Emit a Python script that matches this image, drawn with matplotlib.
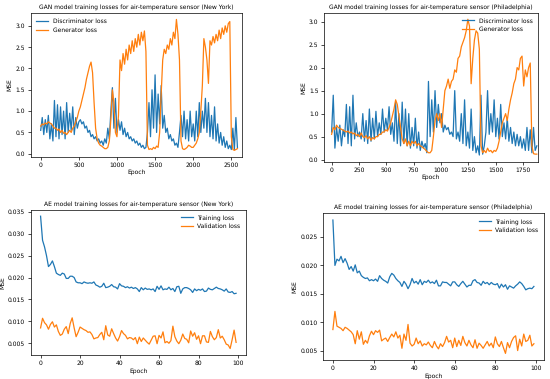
import numpy as np
import matplotlib.pyplot as plt

plt.rcParams['text.hinting'] = 'none'
plt.rcParams['font.size'] = 4.3
plt.rcParams['axes.titlesize'] = 4.35
plt.rcParams['axes.linewidth'] = 0.5
plt.rcParams['xtick.major.width'] = 0.5
plt.rcParams['ytick.major.width'] = 0.5
plt.rcParams['xtick.major.size'] = 2
plt.rcParams['ytick.major.size'] = 2
plt.rcParams['xtick.major.pad'] = 2
plt.rcParams['ytick.major.pad'] = 2

# GAN losses, New York (one value every 20 epochs)
ny_gan_step = 20
ny_disc = [0.55, 0.85, 0.45, 0.8, 0.5, 0.9, 0.35, 0.7, 0.3, 1.25,
           0.4, 1.15, 0.35, 1.1, 0.45, 1.0, 0.35, 1.2, 0.5, 0.95,
           0.55, 1.1, 0.45, 0.85, 0.6, 0.75, 0.8, 0.7, 0.75, 0.6,
           0.65, 0.5, 0.55, 0.4, 0.45, 0.35, 0.4, 0.3, 0.35, 0.25,
           0.3, 0.2, 0.35, 0.25, 0.6, 0.35, 1.0, 1.55, 0.6, 1.3,
           0.5, 0.8, 0.55, 0.75, 0.45, 0.6, 0.4, 0.5, 0.35, 0.4,
           0.3, 0.35, 0.25, 0.3, 0.2, 0.25, 0.15, 0.2, 0.12, 0.15,
           0.5, 1.2, 0.4, 1.5, 0.6, 1.85, 0.5, 1.4, 0.7, 1.6,
           0.6, 0.9, 0.5, 0.6, 0.35, 0.45, 0.3, 0.35, 0.2, 0.25,
           0.15, 0.5, 0.9, 0.4, 1.0, 0.35, 0.8, 0.3, 1.0, 0.4,
           0.7, 0.3, 1.0, 0.4, 1.2, 0.5, 1.0, 0.6, 1.3, 0.5,
           1.2, 0.4, 0.9, 0.35, 1.1, 0.3, 0.7, 0.25, 0.5, 0.2,
           0.4, 0.15, 0.3, 0.12, 0.2, 0.1, 0.6, 0.1, 0.85, 0.15]
ny_gen = [0.65, 0.7, 0.68, 0.72, 0.7, 0.75, 0.72, 0.7, 0.65, 0.6,
          0.6, 0.55, 0.58, 0.5, 0.55, 0.48, 0.5, 0.45, 0.5, 0.55,
          0.5, 0.6, 0.65, 0.75, 0.85, 1.0, 1.1, 1.25, 1.4, 1.55,
          1.75, 1.9, 2.05, 2.15, 1.9, 1.2, 0.6, 0.35, 0.25, 0.2,
          0.18, 0.15, 0.12, 0.12, 0.15, 0.3, 0.8, 1.5, 1.2, 0.5,
          0.4, 0.9, 2.2, 1.95, 2.35, 2.1, 2.45, 2.2, 2.55, 2.35,
          2.65, 2.4, 2.7, 2.5, 2.8, 2.55, 2.85, 2.65, 2.88, 2.4,
          0.2, 0.1, 0.12, 0.1, 0.15, 0.12, 0.18, 0.15, 0.5, 1.4,
          2.2, 2.45, 2.35, 2.55, 2.45, 2.7, 2.55, 2.85, 2.7, 3.15,
          2.8, 2.2, 0.3, 0.12, 0.1, 0.12, 0.15, 0.2, 0.18, 0.15,
          0.15, 0.2, 0.25, 0.35, 0.5, 1.0, 1.6, 2.7, 2.5, 2.2,
          1.65, 2.65, 2.55, 2.75, 2.6, 2.8, 2.65, 2.9, 2.7, 2.95,
          2.8, 3.0, 2.85, 3.05, 3.1, 0.4, 0.1, 0.08, 0.1, 0.12]

# GAN losses, Philadelphia (one value every 15 epochs)
ph_gan_step = 15
ph_disc = [0.6, 1.4, 0.25, 0.7, 0.4, 0.75, 0.3, 0.65, 0.5, 1.2,
           0.35, 1.15, 0.3, 1.4, 0.45, 0.8, 0.5, 0.6, 0.45, 1.0,
           0.4, 0.85, 0.35, 1.1, 0.4, 0.9, 0.45, 1.05, 0.5, 0.8,
           0.55, 1.1, 0.6, 0.9, 0.65, 1.15, 0.55, 0.8, 0.4, 1.25,
           0.35, 1.0, 0.3, 1.25, 0.35, 1.1, 0.3, 1.0, 0.25, 0.7,
           0.3, 0.9, 0.25, 0.6, 0.2, 0.4, 0.25, 0.35, 0.15, 1.7,
           0.5, 1.3, 0.6, 1.5, 0.7, 1.2, 0.8, 1.0, 0.6, 0.75,
           0.65, 0.7, 0.55, 0.6, 0.5, 1.5, 0.45, 0.6, 0.4, 1.0,
           0.35, 1.3, 0.3, 0.6, 0.25, 1.1, 0.2, 0.5, 0.15, 0.3,
           0.1, 1.4, 0.12, 0.3, 0.6, 1.5, 0.55, 1.0, 0.6, 1.3,
           0.5, 0.9, 0.45, 1.2, 0.5, 0.8, 0.45, 0.9, 0.4, 0.7,
           0.35, 0.6, 0.3, 0.55, 0.3, 0.5, 0.25, 0.45, 0.2, 0.7,
           0.2, 0.65, 0.15, 0.7, 0.2, 0.3]
ph_gen = [0.55, 0.7, 0.65, 0.75, 0.7, 0.68, 0.66, 0.64, 0.62, 0.6,
          0.62, 0.58, 0.6, 0.56, 0.58, 0.52, 0.55, 0.5, 0.58, 0.5,
          0.48, 0.52, 0.45, 0.5, 0.42, 0.48, 0.45, 0.5, 0.5, 0.55,
          0.55, 0.6, 0.6, 0.65, 0.62, 0.7, 0.8, 0.95, 1.1, 1.3,
          1.2, 0.95, 0.7, 0.45, 0.35, 0.45, 0.3, 0.4, 0.3, 0.4,
          0.35, 0.4, 0.3, 0.35, 0.3, 0.28, 0.25, 0.22, 0.18, 0.15,
          0.15, 0.2, 0.5, 0.85, 1.0, 0.85, 1.0, 0.7, 1.1, 1.5,
          1.6, 1.75, 1.55, 1.7, 1.75, 1.95, 1.9, 2.2, 2.25, 2.45,
          2.55, 2.65, 2.8, 3.05, 2.9, 1.65, 2.2, 2.6, 2.8, 2.75,
          2.4, 0.3, 0.15, 0.2, 0.15, 0.25, 0.18, 0.2, 0.15, 0.2,
          0.18, 0.25, 0.4, 0.6, 0.8, 0.9, 1.0, 0.85, 1.1, 1.3,
          1.45, 1.65, 1.75, 2.0, 1.95, 2.2, 2.25, 1.6, 1.95, 1.8,
          2.0, 2.1, 0.3, 0.13, 0.12, 0.12]

# AE losses, New York (per epoch)
ny_train = [0.0340, 0.0285, 0.0270, 0.0250, 0.0225, 0.0230, 0.0238, 0.0225, 0.0210, 0.0207,
            0.0205, 0.0210, 0.0208, 0.0198, 0.0198, 0.0203, 0.0203, 0.0200, 0.0190, 0.0188,
            0.0188, 0.0186, 0.0190, 0.0188, 0.0187, 0.0188, 0.0187, 0.0190, 0.0183, 0.0181,
            0.0178, 0.0180, 0.0187, 0.0177, 0.0178, 0.0180, 0.0184, 0.0179, 0.0178, 0.0174,
            0.0186, 0.0181, 0.0180, 0.0177, 0.0179, 0.0176, 0.0178, 0.0175, 0.0177, 0.0174,
            0.0168, 0.0177, 0.0172, 0.0176, 0.0173, 0.0174, 0.0172, 0.0174, 0.0168, 0.0180,
            0.0173, 0.0181, 0.0172, 0.0174, 0.0173, 0.0178, 0.0172, 0.0175, 0.0168, 0.0179,
            0.0180, 0.0164, 0.0174, 0.0177, 0.0177, 0.0175, 0.0172, 0.0166, 0.0174, 0.0170,
            0.0173, 0.0171, 0.0174, 0.0168, 0.0169, 0.0176, 0.0173, 0.0172, 0.0175, 0.0178,
            0.0175, 0.0174, 0.0172, 0.0169, 0.0174, 0.0167, 0.0166, 0.0168, 0.0163, 0.0164]
ny_val = [0.0085, 0.0107, 0.0097, 0.0092, 0.0082, 0.0093, 0.0099, 0.0087, 0.0092, 0.0077,
          0.0068, 0.0071, 0.0082, 0.0088, 0.0072, 0.0095, 0.0108, 0.0085, 0.0065, 0.0075,
          0.0087, 0.0084, 0.0081, 0.0079, 0.0075, 0.0076, 0.0070, 0.0060, 0.0062, 0.0063,
          0.0070, 0.0075, 0.0058, 0.0090, 0.0069, 0.0066, 0.0083, 0.0072, 0.0062, 0.0055,
          0.0065, 0.0079, 0.0072, 0.0068, 0.0060, 0.0063, 0.0062, 0.0058, 0.0063, 0.0049,
          0.0064, 0.0054, 0.0062, 0.0057, 0.0052, 0.0048, 0.0057, 0.0066, 0.0067, 0.0049,
          0.0068, 0.0062, 0.0076, 0.0051, 0.0054, 0.0050, 0.0056, 0.0089, 0.0065, 0.0055,
          0.0049, 0.0057, 0.0071, 0.0061, 0.0059, 0.0051, 0.0078, 0.0066, 0.0074, 0.0059,
          0.0067, 0.0049, 0.0067, 0.0067, 0.0053, 0.0052, 0.0077, 0.0065, 0.0058, 0.0063,
          0.0081, 0.0062, 0.0066, 0.0058, 0.0048, 0.0046, 0.0038, 0.0058, 0.0080, 0.0052]

# AE losses, Philadelphia (per epoch)
ph_train = [0.0280, 0.0200, 0.0211, 0.0208, 0.0216, 0.0205, 0.0212, 0.0204, 0.0193, 0.0198,
            0.0190, 0.0201, 0.0187, 0.0190, 0.0182, 0.0179, 0.0177, 0.0178, 0.0173, 0.0175,
            0.0173, 0.0176, 0.0172, 0.0182, 0.0177, 0.0174, 0.0172, 0.0169, 0.0180, 0.0186,
            0.0183, 0.0177, 0.0173, 0.0170, 0.0163, 0.0172, 0.0167, 0.0159, 0.0166, 0.0177,
            0.0169, 0.0172, 0.0167, 0.0175, 0.0166, 0.0172, 0.0170, 0.0174, 0.0169, 0.0171,
            0.0168, 0.0174, 0.0164, 0.0164, 0.0171, 0.0170, 0.0170, 0.0167, 0.0164, 0.0171,
            0.0171, 0.0166, 0.0163, 0.0168, 0.0172, 0.0167, 0.0162, 0.0165, 0.0165, 0.0173,
            0.0175, 0.0170, 0.0169, 0.0165, 0.0172, 0.0168, 0.0170, 0.0166, 0.0170, 0.0167,
            0.0166, 0.0168, 0.0160, 0.0167, 0.0162, 0.0166, 0.0158, 0.0164, 0.0162, 0.0160,
            0.0164, 0.0167, 0.0171, 0.0168, 0.0163, 0.0157, 0.0159, 0.0160, 0.0159, 0.0163]
ph_val = [0.0087, 0.0119, 0.0093, 0.0091, 0.0089, 0.0085, 0.0091, 0.0089, 0.0086, 0.0083,
          0.0078, 0.0062, 0.0085, 0.0070, 0.0083, 0.0061, 0.0068, 0.0063, 0.0076, 0.0084,
          0.0078, 0.0085, 0.0082, 0.0086, 0.0067, 0.0070, 0.0072, 0.0066, 0.0073, 0.0079,
          0.0074, 0.0083, 0.0072, 0.0077, 0.0054, 0.0079, 0.0068, 0.0096, 0.0063, 0.0058,
          0.0061, 0.0072, 0.0062, 0.0067, 0.0058, 0.0062, 0.0060, 0.0065, 0.0059, 0.0055,
          0.0066, 0.0058, 0.0053, 0.0062, 0.0057, 0.0064, 0.0075, 0.0065, 0.0068, 0.0055,
          0.0072, 0.0057, 0.0068, 0.0059, 0.0075, 0.0064, 0.0058, 0.0068, 0.0060, 0.0055,
          0.0069, 0.0054, 0.0063, 0.0059, 0.0054, 0.0060, 0.0066, 0.0058, 0.0063, 0.0055,
          0.0074, 0.0062, 0.0057, 0.0066, 0.0055, 0.0045, 0.0064, 0.0055, 0.0066, 0.0073,
          0.0076, 0.0050, 0.0070, 0.0058, 0.0079, 0.0066, 0.0068, 0.0077, 0.0058, 0.0062]

fig = plt.figure(figsize=(5.5, 3.79), dpi=100)

ax1 = fig.add_axes([0.056, 0.586, 0.384, 0.380])
ax2 = fig.add_axes([0.589, 0.573, 0.389, 0.394])
ax3 = fig.add_axes([0.056, 0.063, 0.391, 0.384])
ax4 = fig.add_axes([0.587, 0.050, 0.402, 0.387])

# top left
x = np.arange(len(ny_disc)) * ny_gan_step
ax1.plot(x, ny_disc, color='#1f77b4', lw=0.9, label='Discriminator loss')
ax1.plot(x, ny_gen, color='#ff7f0e', lw=0.9, label='Generator loss')
ax1.set_xlim(-130, 2640)
ax1.set_xticks([0, 500, 1000, 1500, 2000, 2500])
ax1.set_yticks([0.0, 0.5, 1.0, 1.5, 2.0, 2.5, 3.0])
ax1.set_title('GAN model training losses for air-temperature sensor (New York)', pad=3)
ax1.legend(loc='upper left', frameon=False)

# top right
x = np.arange(len(ph_disc)) * ph_gan_step
ax2.plot(x, ph_disc, color='#1f77b4', lw=0.9, label='Discriminator loss')
ax2.plot(x, ph_gen, color='#ff7f0e', lw=0.9, label='Generator loss')
ax2.set_xlim(-70, 1885)
ax2.set_xticks([0, 250, 500, 750, 1000, 1250, 1500, 1750])
ax2.set_yticks([0.0, 0.5, 1.0, 1.5, 2.0, 2.5, 3.0])
ax2.set_title('GAN model training losses for air-temperature sensor (Philadelphia)', pad=3)
ax2.legend(loc='upper right', frameon=False)

# bottom left
ep = np.arange(len(ny_train))
ax3.plot(ep, ny_train, color='#1f77b4', lw=0.9, label='Training loss')
ax3.plot(ep, ny_val, color='#ff7f0e', lw=0.9, label='Validation loss')
ax3.set_title('AE model training losses for air-temperature sensor (New York)', pad=3)
ax3.legend(loc='upper right', frameon=False)

# bottom right
ep = np.arange(len(ph_train))
ax4.plot(ep, ph_train, color='#1f77b4', lw=0.9, label='Training loss')
ax4.plot(ep, ph_val, color='#ff7f0e', lw=0.9, label='Validation loss')
ax4.set_title('AE model training losses for air-temperature sensor (Philadelphia)', pad=3)
ax4.legend(loc='upper right', frameon=False)

for ax in (ax1, ax2, ax3, ax4):
    ax.set_xlabel('Epoch', labelpad=1)
    ax.set_ylabel('MSE', labelpad=2)

fig.savefig('out.png', dpi=100)
